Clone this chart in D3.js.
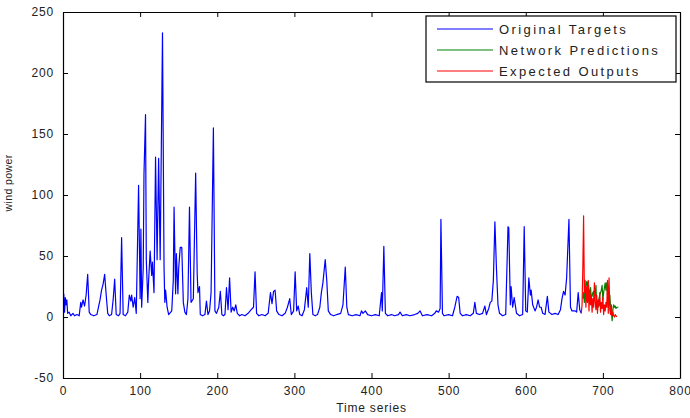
<!DOCTYPE html>
<html>
<head>
<meta charset="utf-8">
<script src="https://cdn.jsdelivr.net/npm/d3@7"></script>
<style>
  body { margin: 0; background: #fff; }
  svg text { font-family: "Liberation Sans", Arial, sans-serif; fill: #222; }
</style>
</head>
<body>
<div class="canvas"></div>
<script>
// data: [time index, wind power]
const targetX = [1,2,3,4,5,6,8,10,13,15,18,21,23,24,26,28,30,32,34,36,40,44,46,48,50,52,54,56,58,60,63,65,67,69,72,74,76,78,81,84,86,88,89,91,93,95,98,100,101,102,104,105,107,108,110,111,113,115,116,118,120,122,124,126,129,131,132,133,135,137,141,143,144,146,147,149,150,152,154,156,158,160,162,164,166,169,172,174,175,177,178,181,184,186,188,190,192,195,197,199,202,204,206,208,210,212,214,216,218,220,222,224,226,229,232,236,240,244,247,249,251,254,258,262,266,269,271,273,275,277,280,284,288,291,294,296,299,301,303,305,307,310,313,316,318,320,322,324,327,330,333,335,337,340,342,344,347,351,355,360,363,366,368,370,375,380,385,387,389,392,395,400,405,410,413,414,416,418,421,426,430,435,437,440,445,450,456,460,463,466,472,478,482,484,487,489,490,492,494,500,505,508,511,513,515,518,523,528,532,534,536,540,544,547,549,552,554,556,558,560,562,564,566,570,574,577,578,580,581,583,585,588,592,596,598,600,602,604,606,607,609,612,614,616,618,620,622,625,628,630,634,638,642,645,647,649,651,653,656,658,660,664,666,668,670,672];
const targetY = [19,4,16,10,14,3,4,1,3,1,2,1,12,8,14,9,18,35,4,2,1,2,8,14,22,27,35,18,3,1,2,14,31,2,1,3,65,2,1,4,18,13,18,8,16,3,108,15,72,8,40,117,166,47,12,30,54,34,45,20,131,47,130,47,233,41,12,22,8,2,5,30,90,19,52,19,40,57,57,12,4,2,15,90,12,15,118,35,20,25,2,1,2,13,2,5,20,155,5,3,8,21,2,1,2,24,6,32,4,8,5,10,3,1,2,1,3,6,8,37,3,1,2,1,3,20,11,21,22,5,2,1,3,8,15,2,5,37,5,9,2,1,6,24,8,52,20,2,1,2,8,20,28,47,30,5,2,1,2,3,10,41,8,2,1,2,1,5,3,5,2,1,2,1,20,5,58,3,1,2,1,2,4,1,2,1,2,3,5,1,2,1,3,5,4,7,80,3,1,2,1,8,17,16,3,1,2,1,3,12,3,2,3,9,2,7,12,13,30,78,40,10,3,1,2,74,73,10,25,8,16,3,1,2,74,5,4,32,18,22,10,5,8,14,8,8,3,2,17,4,2,3,2,6,15,21,18,32,80,8,5,5,4,20,6,3];

const predStart = 674;
const predY = [15,20,12,22,26,29,24,29,22,18,24,16,17,20,21,14,18,26,10,12,8,15,18,20,22,26,14,20,24,28,22,28,18,22,12,18,8,4,-3,6,10,8,9,7,8,8,8];

const expStart = 672;
const expY = [3,10,40,83,20,30,8,25,12,30,5,22,10,18,4,15,8,28,12,6,18,3,14,9,20,4,12,7,16,2,10,5,12,8,30,3,32,6,2,10,1,4,1,0,2,1,0];

const xTicks = [0,100,200,300,400,500,600,700,800];
const yTicks = [-50,0,50,100,150,200,250];
const seriesNames = ['Original Targets', 'Network Predictions', 'Expected Outputs'];
const seriesColors = ['#0000ff', '#008000', '#ff0000'];

const W = 690, H = 418;
const margin = {top: 12, right: 10, bottom: 40, left: 63};
const gw = W - margin.left - margin.right;
const gh = H - margin.top - margin.bottom;

const svg = d3.select('.canvas').append('svg').attr('width', W).attr('height', H);
const graph = svg.append('g').attr('transform', `translate(${margin.left},${margin.top})`);

const x = d3.scaleLinear().domain([0, 800]).range([0, gw]);
const y = d3.scaleLinear().domain([-50, 250]).range([gh, 0]);

// series
const target = targetX.map((t, i) => [t, targetY[i]]);
const pred = predY.map((v, i) => [predStart + i, v]);
const exp = expY.map((v, i) => [expStart + i, v]);

const line = d3.line().x(d => x(d[0])).y(d => y(d[1]));
[target, pred, exp].forEach((s, i) => {
  graph.append('path').datum(s)
    .attr('fill', 'none')
    .attr('stroke', seriesColors[i])
    .attr('stroke-width', 1.2)
    .attr('stroke-linejoin', 'round')
    .attr('d', line);
});

// axes (matlab style: ticks inside, mirrored on top and right), plain hyphen for negatives
const fmt = d => String(d);
const xAxis = d3.axisBottom(x).tickValues(xTicks).tickFormat(fmt).tickSizeInner(-5).tickSizeOuter(0).tickPadding(8);
const yAxis = d3.axisLeft(y).tickValues(yTicks).tickFormat(fmt).tickSizeInner(-5).tickSizeOuter(0).tickPadding(9);
const xAxisTop = d3.axisTop(x).tickValues(xTicks).tickSizeInner(-5).tickSizeOuter(0).tickFormat('');
const yAxisRight = d3.axisRight(y).tickValues(yTicks).tickSizeInner(-5).tickSizeOuter(0).tickFormat('');

graph.append('g').attr('transform', `translate(0,${gh})`).call(xAxis);
graph.append('g').call(yAxis);
graph.append('g').call(xAxisTop);
graph.append('g').attr('transform', `translate(${gw},0)`).call(yAxisRight);

graph.selectAll('.domain').attr('stroke', '#000').attr('stroke-width', 1.2);
graph.selectAll('.tick line').attr('stroke', '#000');
graph.selectAll('.tick text').attr('font-size', 12).attr('letter-spacing', 0.8)
  .style('font-family', '"Liberation Sans", Arial, sans-serif').attr('fill', '#222');

// labels
svg.append('text').attr('x', margin.left + gw / 2).attr('y', 412)
  .attr('text-anchor', 'middle').attr('font-size', 12).attr('letter-spacing', 0.8).text('Time series');
svg.append('text').attr('transform', `translate(12,${margin.top + gh / 2 - 12}) rotate(-90)`)
  .attr('text-anchor', 'middle').attr('font-size', 10.5).attr('letter-spacing', 0.4).text('wind power');

// legend
const lg = svg.append('g').attr('transform', 'translate(426,16)');
lg.append('rect').attr('width', 250).attr('height', 66)
  .attr('fill', '#fff').attr('stroke', '#000').attr('stroke-width', 1.2);
seriesNames.forEach((name, i) => {
  const ly = 13 + i * 21;
  lg.append('line').attr('x1', 11).attr('x2', 67).attr('y1', ly).attr('y2', ly)
    .attr('stroke', seriesColors[i]).attr('stroke-width', 1.2);
  lg.append('text').attr('x', 73).attr('y', ly + 4.5)
    .attr('font-size', 13).attr('letter-spacing', 2.4).text(name);
});
</script>
</body>
</html>
